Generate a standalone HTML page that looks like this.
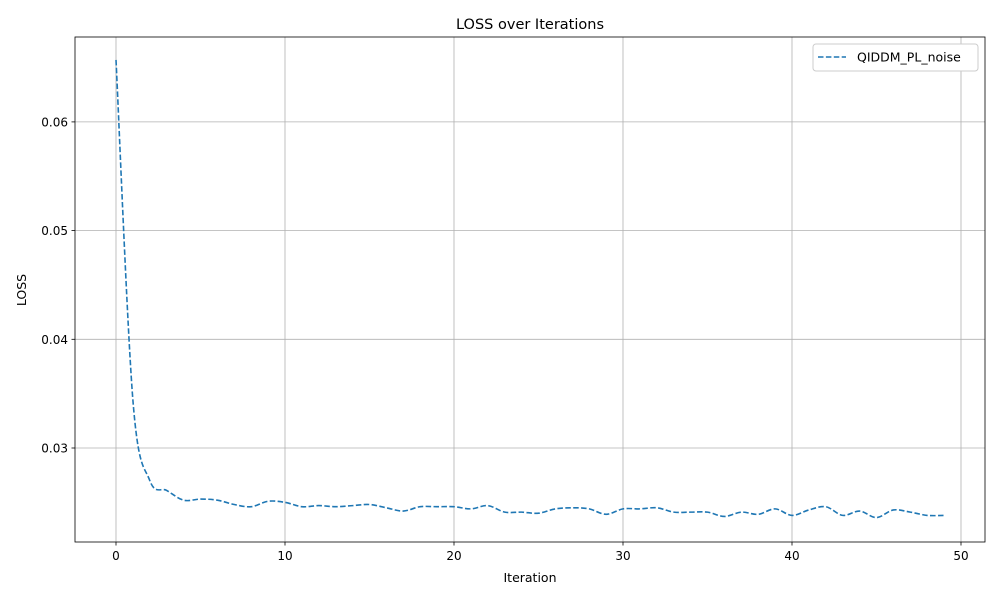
<!DOCTYPE html>
<html><head><meta charset="utf-8"><style>
body{margin:0;background:#fff;}
svg text{font-family:"DejaVu Sans","Liberation Sans",sans-serif;}
</style></head><body>
<svg id="chart" width="1000" height="600" xmlns="http://www.w3.org/2000/svg">
<rect width="1000" height="600" fill="#fff"/>
<g id="grid"></g>
<g id="ticks"></g>
<path id="line" fill="none" stroke="#1f77b4" stroke-width="1.6" stroke-dasharray="5.5,2.4"/>
<rect x="75" y="37" width="910" height="505" fill="none" stroke="#000" stroke-width="0.8"/>
<text x="530" y="29" font-size="14.5" text-anchor="middle">LOSS over Iterations</text>
<text x="530" y="582" font-size="12.5" text-anchor="middle">Iteration</text>
<text x="26" y="290" font-size="12.5" text-anchor="middle" transform="rotate(-90 26 290)">LOSS</text>
<g>
<rect x="813" y="44" width="165" height="27" rx="3" fill="#fff" stroke="#ccc"/>
<line x1="818" y1="57" x2="846" y2="57" stroke="#1f77b4" stroke-width="1.6" stroke-dasharray="5.5,2.4"/>
<text x="857" y="61.5" font-size="12.5">QIDDM_PL_noise</text>
</g>
</svg>
<script>
const iterations=[];for(let i=0;i<50;i++)iterations.push(i);
const loss=[0.0657,0.0344,0.0270,0.0261,0.0252,0.0253,0.0252,0.0248,0.0246,0.0251,
0.0250,0.0246,0.0247,0.0246,0.0247,0.0248,0.0245,0.0242,0.0246,0.0246,
0.0246,0.0244,0.0247,0.0241,0.0241,0.0240,0.0244,0.0245,0.0244,0.0239,
0.0244,0.0244,0.0245,0.0241,0.0241,0.0241,0.0237,0.0241,0.0239,0.0244,
0.0238,0.0243,0.0246,0.0238,0.0242,0.0236,0.0243,0.0241,0.0238,0.0238];
const xTicks=[0,10,20,30,40,50];
const yTicks=[0.03,0.04,0.05,0.06];
const yLabels=["0.03","0.04","0.05","0.06"];
const ns="http://www.w3.org/2000/svg";
const sx=v=>116+v*16.9;
const sy=v=>448-(v-0.03)*10870;
const grid=document.getElementById('grid'),ticks=document.getElementById('ticks');
function mk(p,tag,a){const e=document.createElementNS(ns,tag);for(const k in a)e.setAttribute(k,a[k]);p.appendChild(e);return e;}
xTicks.forEach(t=>{const x=sx(t);
const g=mk(grid,'line',{x1:x,x2:x,y1:37,y2:542,stroke:'#b0b0b0','stroke-width':0.8});


const tk=mk(ticks,'line',{x1:x,x2:x,y1:542,y2:545.5,stroke:'#000','stroke-width':0.8});


const tx=mk(ticks,'text',{x:x,y:560,'font-size':12,'text-anchor':'middle'});tx.textContent=t;

});
yTicks.forEach((t,i)=>{const y=sy(t);
const g=mk(grid,'line',{x1:75,x2:985,y1:y,y2:y,stroke:'#b0b0b0','stroke-width':0.8});


const tk=mk(ticks,'line',{x1:71.5,x2:75,y1:y,y2:y,stroke:'#000','stroke-width':0.8});


const tx=mk(ticks,'text',{x:68,y:y+4.5,'font-size':12,'text-anchor':'end'});tx.textContent=yLabels[i];

});
const pts=iterations.map((it,i)=>[sx(it),sy(loss[i])]);
let d='M'+pts[0][0]+','+pts[0][1];
for(let i=0;i<pts.length-1;i++){const p0=pts[Math.max(0,i-1)],p1=pts[i],p2=pts[i+1],p3=pts[Math.min(pts.length-1,i+2)];
const c1=[p1[0]+(p2[0]-p0[0])/6,p1[1]+(p2[1]-p0[1])/6],c2=[p2[0]-(p3[0]-p1[0])/6,p2[1]-(p3[1]-p1[1])/6];
d+=` C${c1[0]},${c1[1]} ${c2[0]},${c2[1]} ${p2[0]},${p2[1]}`;}
document.getElementById('line').setAttribute('d',d);
</script>
</body></html>
